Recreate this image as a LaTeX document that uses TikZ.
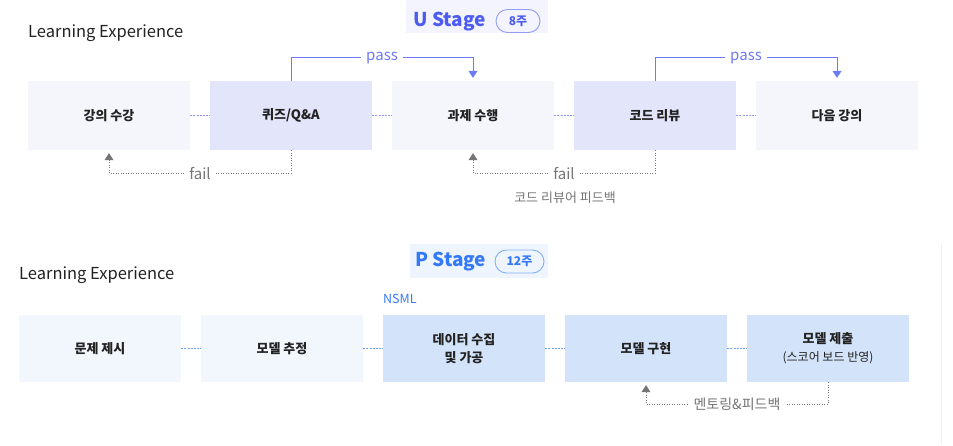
\documentclass[tikz,border=0pt]{standalone}
\usepackage{fontspec}
\setmainfont{Noto Sans CJK KR}
\usepackage{tikz}
\definecolor{ublue}{RGB}{76,92,240}
\definecolor{upass}{RGB}{110,122,242}
\definecolor{ulink}{RGB}{140,150,245}
\definecolor{ulight}{RGB}{245,246,252}
\definecolor{uhigh}{RGB}{227,229,250}
\definecolor{ubg}{RGB}{243,244,254}
\definecolor{pblue}{RGB}{52,122,246}
\definecolor{plink}{RGB}{110,162,242}
\definecolor{plight}{RGB}{242,247,254}
\definecolor{phigh}{RGB}{211,228,250}
\definecolor{pbg}{RGB}{239,245,254}
\definecolor{txtdark}{RGB}{34,34,34}
\definecolor{txtgray}{RGB}{117,117,117}
\usetikzlibrary{arrows.meta}

\begin{document}
\begin{tikzpicture}[x=1pt, y=-1pt,
				>={Triangle[length=7pt,width=9pt]},   %Pfeilspitzen
				text=txtdark,
				box/.style={minimum width=162pt, inner sep=0pt, align=center, font=\fontsize{13}{18}\selectfont\bfseries},
				ubox/.style={box, fill=ulight, minimum height=69pt},
				uhbox/.style={box, fill=uhigh, minimum height=69pt},
				pbox/.style={box, fill=plight, minimum height=67pt},
				phbox/.style={box, fill=phigh, minimum height=67pt},
				heading/.style={anchor=base west, inner sep=0pt, font=\fontsize{16.5}{20}\selectfont},
				stagetitle/.style={anchor=base west, inner sep=0pt, font=\fontsize{19}{24}\selectfont\bfseries},
				badge/.style={draw=#1!60, text=#1, line width=0.9pt, rounded corners=11.5pt, minimum height=23pt, inner sep=0pt, font=\fontsize{12}{14}\selectfont\bfseries},
				passline/.style={upass, line width=1pt},
				faillink/.style={txtgray, line width=0.9pt, dash pattern=on 1pt off 1.5pt},
				boxlink/.style={#1, line width=1pt, dash pattern=on 2pt off 1.2pt},
				flowlabel/.style={fill=white, inner sep=5pt, font=\fontsize{15}{16}\selectfont},
				note/.style={text=txtgray, inner sep=0pt, font=\fontsize{13}{16}\selectfont}]
				\useasboundingbox (0,0) rectangle (953,445);
				% U Stage Titel
				\fill[ubg] (406,0) rectangle (548,33);
				\node[stagetitle, text=ublue] (ustage) at (413,26.5) {U Stage};
				\node[badge=ublue, minimum width=44pt] (uweeks) at (518,21) {8주};
				\node[heading] (ulearn) at (28,37.5) {Learning Experience};
				% U Stage Kaesten
				\node[ubox] (u1) at (109,115.5) {강의 수강};
				\node[uhbox] (u2) at (291,115.5) {퀴즈/Q\&A};
				\node[ubox] (u3) at (473,115.5) {과제 수행};
				\node[uhbox] (u4) at (655,115.5) {코드 리뷰};
				\node[ubox] (u5) at (837,115.5) {다음 강의};
				\foreach \a/\b in {u1/u2,u2/u3,u3/u4,u4/u5}
					\draw[boxlink=ulink] (\a.east) -- (\b.west);
				% pass / fail
				\draw[passline, ->, shorten >=3pt] (u2.north) -- ++(0,-23) -| (u3.north)
					node[flowlabel, text=upass, pos=0.25] (pass1) {pass};
				\draw[passline, ->, shorten >=3pt] (u4.north) -- ++(0,-23) -| (u5.north)
					node[flowlabel, text=upass, pos=0.25] (pass2) {pass};
				\draw[faillink, ->, shorten >=3pt] (u2.south) -- ++(0,23) -| (u1.south)
					node[flowlabel, text=txtgray, pos=0.25] (fail1) {fail};
				\draw[faillink, ->, shorten >=3pt] (u4.south) -- ++(0,23) -| (u3.south)
					node[flowlabel, text=txtgray, pos=0.25] (fail2) {fail};
				\node[note] (reviewnote) at (565,198) {코드 리뷰어 피드백};
				% P Stage Titel
				\fill[pbg] (410,244) rectangle (548,278);
				\node[stagetitle, text=pblue] (pstage) at (415,266) {P Stage};
				\node[badge=pblue, minimum width=49pt] (pweeks) at (519.5,261.5) {12주};
				\node[heading] (plearn) at (19,279) {Learning Experience};
				\node[anchor=base west, inner sep=0pt, text=pblue, font=\fontsize{12.5}{14}\selectfont] (nsml) at (383,303) {NSML};
				% P Stage Kaesten
				\node[pbox] (p1) at (100,348.5) {문제 제시};
				\node[pbox] (p2) at (282,348.5) {모델 추정};
				\node[phbox] (p3) at (464,348.5) {데이터 수집\\및 가공};
				\node[phbox] (p4) at (646,348.5) {모델 구현};
				\node[phbox] (p5) at (828,348.5) {모델 제출\\{\mdseries\fontsize{12}{18}\selectfont(스코어 보드 반영)}};
				\foreach \a/\b in {p1/p2,p2/p3,p3/p4,p4/p5}
					\draw[boxlink=plink] (\a.east) -- (\b.west);
				% Mentoring
				\draw[faillink, ->, shorten >=3pt] (p5.south) -- ++(0,22) -| (p4.south)
					node[flowlabel, text=txtgray, font=\fontsize{14}{16}\selectfont, pos=0.25] (mentor) {멘토링\&피드백};
				% Trennlinie rechts
				\draw[black!6, line width=1pt] (941,244) -- (941,445);
			\end{tikzpicture}
\end{document}
